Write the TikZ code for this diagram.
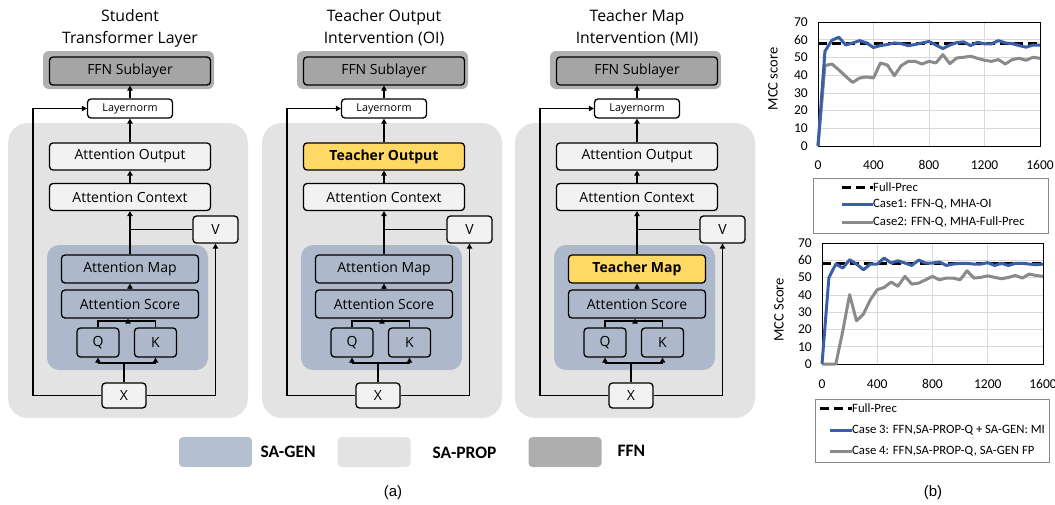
\documentclass[tikz,border=0pt]{standalone}
\usepackage{fontspec}
\setmainfont{Open Sans}
\newfontfamily\calfont{Carlito}
\newfontfamily\arialfont{Liberation Sans}
\usetikzlibrary{arrows.meta}
\usetikzlibrary{calc}

\definecolor{sagen}{HTML}{ADB9CA}
\definecolor{sagenleg}{HTML}{B4BFCF}
\definecolor{saprop}{HTML}{E3E3E3}
\definecolor{ffngray}{HTML}{A5A5A5}
\definecolor{ffnband}{HTML}{B0B0B0}
\definecolor{teacher}{HTML}{FFD966}
\definecolor{boxfill}{HTML}{F2F2F2}
\definecolor{caseblue}{HTML}{3A5FA6}
\definecolor{casegray}{HTML}{8A8A8A}
\definecolor{gridgray}{HTML}{D9D9D9}

\begin{document}
\begin{tikzpicture}[
    x=1pt, y=-1pt,
    font=\fontsize{14}{16}\selectfont,
    blk/.style={draw=black, line width=1.3pt, rounded corners=3.5pt,
      inner sep=0pt, minimum width=161pt, minimum height=27pt},
    flecha/.style={-{Triangle[length=5pt,width=5.5pt]}, line width=1.1pt},
    linea/.style={line width=1.1pt},
    swatch/.style={rounded corners=4pt, minimum width=73pt, minimum height=30pt},
    legtext/.style={anchor=west, font=\calfont\bfseries\fontsize{17.5}{19}\selectfont},
    tick/.style={font=\calfont\fontsize{13.5}{15}\selectfont, inner sep=1pt},
    ylab/.style={font=\calfont\fontsize{14.5}{16}\selectfont, rotate=90},
    legcase/.style={anchor=west, inner sep=0pt, font=\calfont\fontsize{12.7}{15}\selectfont},
    rejilla/.style={gridgray, line width=0.6pt},
    marco/.style={black, line width=0.9pt},
    fullprec/.style={black, line width=3pt, dash pattern=on 9pt off 5pt},
    caseone/.style={caseblue, line width=3pt, line join=round},
    casetwo/.style={casegray, line width=3pt, line join=round}
  ]
  \useasboundingbox (0,0) rectangle (1055,504);

  % Los tres bloques de la capa
  \foreach \p/\dx/\tituloA/\tituloB/\salida/\salfill/\salfont/\mapa/\mapfill/\mapfont in {
      s/0/Student/Transformer Layer/Attention Output/boxfill/\mdseries/Attention Map/sagen/\mdseries,
      o/254/Teacher Output/Intervention (OI)/Teacher Output/teacher/\bfseries/Attention Map/sagen/\mdseries,
      m/507/Teacher Map/Intervention (MI)/Attention Output/boxfill/\mdseries/Teacher Map/teacher/\bfseries} {
    \begin{scope}[xshift=\dx]
      % Fondos SA-PROP, SA-GEN y FFN
      \fill[saprop, rounded corners=20pt] (8,123) rectangle (248,418);
      \fill[sagen, rounded corners=12pt] (47,245) rectangle (208,370);
      \fill[ffnband, rounded corners=6pt] (43,51) rectangle (214,89);

      % Titulo
      \node[align=center, font=\fontsize{15.8}{22}\selectfont] (\p-tit) at (130,28) {\tituloA\\\tituloB};

      % Cajas
      \node[blk, fill=ffngray, minimum height=28pt] (\p-ffn) at (130,71) {FFN Sublayer};
      \node[blk, fill=white, minimum width=85pt, minimum height=19pt,
        font=\fontsize{10.8}{12}\selectfont] (\p-ln) at (130,108.5) {Layernorm};
      \node[blk, fill=\salfill] (\p-out) at (130,156.5) {\salfont\salida};
      \node[blk, fill=boxfill] (\p-ctx) at (130,197) {Attention Context};
      \node[blk, fill=boxfill, minimum width=45pt] (\p-v) at (215.5,229.5) {V};
      \node[blk, fill=\mapfill, minimum width=137pt, minimum height=28pt] (\p-map) at (130,269) {\mapfont\mapa};
      \node[blk, fill=sagen, minimum width=137pt, minimum height=28pt] (\p-sc) at (130,304) {Attention Score};
      \node[blk, fill=sagen, minimum width=42pt, minimum height=29pt] (\p-q) at (98,342.5) {Q};
      \node[blk, fill=sagen, minimum width=42pt, minimum height=29pt] (\p-k) at (155.5,342.5) {K};
      \node[blk, fill=boxfill, minimum width=44pt, minimum height=25pt] (\p-x) at (124,395.5) {X};

      % Puntos auxiliares
      \coordinate (\p-bus) at (124,363);
      \coordinate (\p-sj) at (128,321);
      \coordinate (\p-ret) at (33,108.5);

      % Conexiones
      \draw[linea] (\p-x.north) -- (\p-bus);
      \draw[linea] (\p-q.south |- \p-bus) -- (\p-k.south |- \p-bus);
      \draw[flecha] (\p-q.south |- \p-bus) -- (\p-q.south);
      \draw[flecha] (\p-k.south |- \p-bus) -- (\p-k.south);
      \draw[linea] (\p-q.north) |- (\p-sj);
      \draw[linea] (\p-k.north) |- (\p-sj);
      \draw[flecha] (\p-sj) -- (\p-sj |- \p-sc.south);
      \draw[flecha] (\p-sc.north) -- (\p-map.south);
      \draw[flecha] (\p-map.north) -- (\p-ctx.south);
      \draw[linea] (\p-v.west) -- (\p-v.west -| \p-map.north);
      \draw[flecha] (\p-ctx.north) -- (\p-out.south);
      \draw[flecha] (\p-out.north) -- (\p-ln.south);
      \draw[flecha] (\p-ln.north) -- (\p-ffn.south);
      \draw[flecha] (\p-x.west) -| (\p-ret) -- (\p-ln.west);
      \draw[flecha] (\p-x.east) -| (\p-v.south);
    \end{scope}
  }

  % Leyenda (a)
  \node[swatch, fill=sagenleg] (sw-gen) at (215.5,452) {};
  \node[legtext] (lt-gen) at (257,452) {SA-GEN};
  \node[swatch, fill=saprop] (sw-prop) at (374,452) {};
  \node[legtext] (lt-prop) at (429,453) {SA-PROP};
  \node[swatch, fill=ffngray!90!white] (sw-ffn) at (565,452) {};
  \node[legtext] (lt-ffn) at (614,451) {FFN};
  \node[font=\arialfont\fontsize{15}{17}\selectfont] (cap-a) at (393,493) {(a)};

  % Grafica superior
  \begin{scope}[shift={(818,146)}, x=6.9375pt, y=1.771pt]
    \foreach \g in {10,20,...,60} \draw[rejilla] (0,\g) -- (32,\g);
    \foreach \g in {8,16,24} \draw[rejilla] (\g,0) -- (\g,70);
    \draw[marco] (0,0) rectangle (32,70);
    \foreach \t in {0,10,...,70} \node[tick, anchor=east] (ta\t) at (-1.3,\t) {\t};
    \foreach \t/\l in {0/0,8/400,16/800,24/1200,32/1600} \node[tick] (xa\l) at (\t,-10.7) {\l};
    \draw[fullprec] (0,58) -- (32,58);
    \draw[casetwo] plot coordinates {(0,0) (1,45.4) (2,46.3) (3,43) (4,39.3) (5,35.9) (6,38.4) (7,39)
      (8,38.4) (9,46.9) (10,45.7) (11,39.7) (12,45.4) (13,47.8) (14,47.8) (15,46.3) (16,47.8)
      (17,46.9) (18,51.6) (19,46.5) (20,49.7) (21,50.1) (22,50.7) (23,49.5) (24,48.4) (25,47.8)
      (26,48.8) (27,46.3) (28,48.8) (29,49.5) (30,48.4) (31,50.1) (32,49.5)};
    \draw[caseone] plot coordinates {(0,0) (1,53.5) (2,59.7) (3,61.4) (4,57) (5,58.2) (6,59.5) (7,58.2)
      (8,55.6) (9,56.7) (10,57.3) (11,58.2) (12,57.8) (13,56.7) (14,57.3) (15,58.2) (16,59)
      (17,57) (18,55) (19,57) (20,58.4) (21,58.8) (22,56.7) (23,58.6) (24,57.7) (25,57.7)
      (26,59.5) (27,58.2) (28,57.8) (29,56.7) (30,55.8) (31,57) (32,57)};
  \end{scope}
  \node[ylab] (yl-a) at (773,79) {MCC score};

  % Leyenda superior
  \node[draw=casegray, line width=0.8pt, minimum width=235pt, minimum height=55pt] (leg-a) at (930.5,205.5) {};
  \node[legcase] (la-fp) at (873,187) {Full-Prec};
  \node[legcase] (la-c1) at (873,204.5) {Case1: FFN-Q, MHA-OI};
  \node[legcase] (la-c2) at (873,222) {Case2: FFN-Q, MHA-Full-Prec};
  \draw[fullprec] (842,187) -- (la-fp.west);
  \draw[caseone] (842,204.5) -- (la-c1.west);
  \draw[casetwo] (842,222) -- (la-c2.west);

  % Grafica inferior
  \begin{scope}[shift={(822,364)}, x=6.906pt, y=1.729pt]
    \foreach \g in {10,20,...,60} \draw[rejilla] (0,\g) -- (32,\g);
    \foreach \g in {8,16,24} \draw[rejilla] (\g,0) -- (\g,70);
    \draw[marco] (0,0) rectangle (32,70);
    \foreach \t in {0,10,...,70} \node[tick, anchor=east] (tb\t) at (-1.3,\t) {\t};
    \foreach \t/\l in {0/0,8/400,16/800,24/1200,32/1600} \node[tick] (xb\l) at (\t,-11.6) {\l};
    \draw[fullprec] (0,58) -- (32,58);
    \draw[casetwo] plot coordinates {(0,0) (1,0) (2,0) (3,18.9) (4,40.1) (5,25) (6,28.9) (7,37.2)
      (8,43) (9,44.3) (10,47.4) (11,44.9) (12,50.7) (13,46.2) (14,46.8) (15,48.7) (16,50.7)
      (17,48.7) (18,49.7) (19,49.7) (20,48.7) (21,53.9) (22,49.7) (23,50.1) (24,51) (25,50.1)
      (26,49.3) (27,50.1) (28,51.2) (29,49.7) (30,52) (31,51.2) (32,50.7)};
    \draw[caseone] plot coordinates {(0,0) (1,50) (2,57.8) (3,55.5) (4,60.3) (5,57.8) (6,54.5) (7,57.8)
      (8,57.8) (9,61.3) (10,58.4) (11,59.7) (12,58.4) (13,57) (14,60.1) (15,58.4) (16,58.4)
      (17,59) (18,57) (19,57.8) (20,58.2) (21,58.2) (22,57.8) (23,57.8) (24,58.6) (25,57)
      (26,58.2) (27,57) (28,58.2) (29,58.2) (30,57.8) (31,57.4) (32,57.8)};
  \end{scope}
  \node[ylab] (yl-b) at (779,310) {MCC Score};

  % Leyenda inferior
  \node[draw=casegray, line width=0.8pt, minimum width=234pt, minimum height=63pt] (leg-b) at (932,430.5) {};
  \node[legcase] (lb-fp) at (852,408) {Full-Prec};
  \node[legcase] (lb-c3) at (852,430) {Case 3: FFN,SA-PROP-Q + SA-GEN: MI};
  \node[legcase] (lb-c4) at (852,451) {Case 4: FFN,SA-PROP-Q, SA-GEN FP};
  \draw[fullprec] (820,408) -- (lb-fp.west);
  \draw[caseone] (830,430) -- (lb-c3.west);
  \draw[casetwo] (830,451) -- (lb-c4.west);

  \node[font=\arialfont\fontsize{15}{17}\selectfont] (cap-b) at (933,493) {(b)};
\end{tikzpicture}
\end{document}
